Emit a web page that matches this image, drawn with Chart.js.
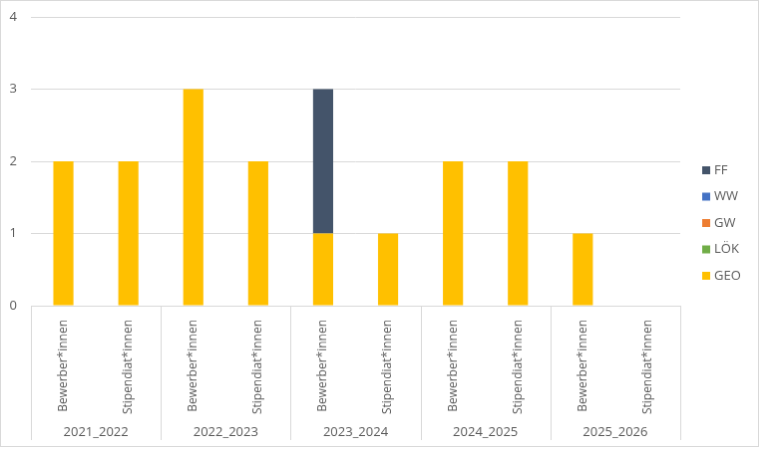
<!DOCTYPE html>
<html>
<head>
<meta charset="utf-8">
<script src="https://cdn.jsdelivr.net/npm/chart.js@4/dist/chart.umd.min.js"></script>
<style>
  body { margin: 0; background: #fff; }
  #chart { display: block; border: 1px solid #d9d9d9; }
</style>
</head>
<body>
<canvas id="chart" width="759" height="447"></canvas>
<script>
// data
const years = ['2021_2022', '2022_2023', '2023_2024', '2024_2025', '2025_2026'];
const roles = ['Bewerber*innen', 'Stipendiat*innen'];
const geo = [2, 2, 3, 2, 1, 1, 2, 2, 1, 0];
const loek = [0, 0, 0, 0, 0, 0, 0, 0, 0, 0];
const gw = [0, 0, 0, 0, 0, 0, 0, 0, 0, 0];
const ww = [0, 0, 0, 0, 0, 0, 0, 0, 0, 0];
const ff = [0, 0, 0, 0, 2, 0, 0, 0, 0, 0];
const yTicks = [0, 1, 2, 3, 4];

const labels = [];
years.forEach(function(y) { roles.forEach(function(r) { labels.push(r); }); });

const fontFam = '"Open Sans", "Noto Sans", sans-serif';
const textCol = '#595959';

// group labels + separators under the axis, and the legend on the right
const groupPlugin = {
    id: 'groups',
    afterDraw: function(chart) {
        const ctx = chart.ctx;
        const x = chart.scales.x;
        const top = chart.chartArea.bottom;
        const bottom = top + 135;
        const per = roles.length;
        ctx.save();
        ctx.strokeStyle = '#d9d9d9';
        ctx.lineWidth = 1;
        for (let g = 0; g <= years.length; g++) {
            let px;
            if (g < years.length) {
                px = (x.getPixelForValue(g * per) - x.getPixelForValue(g * per + 1)) / 2 + x.getPixelForValue(g * per);
            } else {
                px = chart.chartArea.right;
            }
            px = Math.round(px) + 0.5;
            ctx.beginPath();
            ctx.moveTo(px, top);
            ctx.lineTo(px, bottom);
            ctx.stroke();
        }
        ctx.fillStyle = textCol;
        ctx.font = '13px ' + fontFam;
        ctx.textAlign = 'center';
        ctx.textBaseline = 'middle';
        years.forEach(function(y, g) {
            const cx = (x.getPixelForValue(g * per) + x.getPixelForValue(g * per + per - 1)) / 2;
            ctx.fillText(y, cx, top + 127);
        });

        // legend (top-most series first)
        const ds = chart.data.datasets.slice().reverse();
        ctx.textAlign = 'left';
        ctx.font = '13px ' + fontFam;
        ds.forEach(function(d, i) {
            const ly = 170 + i * 26.5;
            ctx.fillStyle = d.backgroundColor;
            ctx.fillRect(703, ly - 4, 8, 8);
            ctx.fillStyle = textCol;
            ctx.fillText(d.label, 715, ly);
        });
        ctx.restore();
    }
};

const ctx = document.getElementById('chart').getContext('2d');
const chart = new Chart(ctx, {
    type: 'bar',
    data: {
        labels: labels,
        datasets: [
            { label: 'GEO', data: geo, backgroundColor: '#FFC000' },
            { label: 'LÖK', data: loek, backgroundColor: '#70AD47' },
            { label: 'GW', data: gw, backgroundColor: '#ED7D31' },
            { label: 'WW', data: ww, backgroundColor: '#4472C4' },
            { label: 'FF', data: ff, backgroundColor: '#44546A' }
        ]
    },
    options: {
        responsive: false,
        animation: false,
        devicePixelRatio: 1,
        layout: { padding: { top: 16, right: 78, left: 0, bottom: 6 } },
        datasets: { bar: { categoryPercentage: 1, barPercentage: 0.31 } },
        plugins: { legend: { display: false }, tooltip: { enabled: false } },
        scales: {
            x: {
                stacked: true,
                grid: { display: false },
                border: { color: '#d9d9d9' },
                ticks: {
                    color: textCol,
                    font: { family: fontFam, size: 12 },
                    minRotation: 90,
                    maxRotation: 90,
                    padding: 6,
                    autoSkip: false
                },
                afterFit: function(scale) { scale.height = 135; }
            },
            y: {
                stacked: true,
                min: 0,
                max: 4,
                afterBuildTicks: function(scale) {
                    scale.ticks = yTicks.map(function(v) { return { value: v }; });
                },
                grid: { color: '#d9d9d9', drawTicks: false },
                border: { display: false },
                ticks: {
                    color: textCol,
                    font: { family: fontFam, size: 13 },
                    padding: 14
                },
                afterFit: function(scale) {
                    scale.width = 30;
                    scale.paddingTop = 0;
                    scale.paddingBottom = 0;
                }
            }
        }
    },
    plugins: [groupPlugin]
});
</script>
</body>
</html>
